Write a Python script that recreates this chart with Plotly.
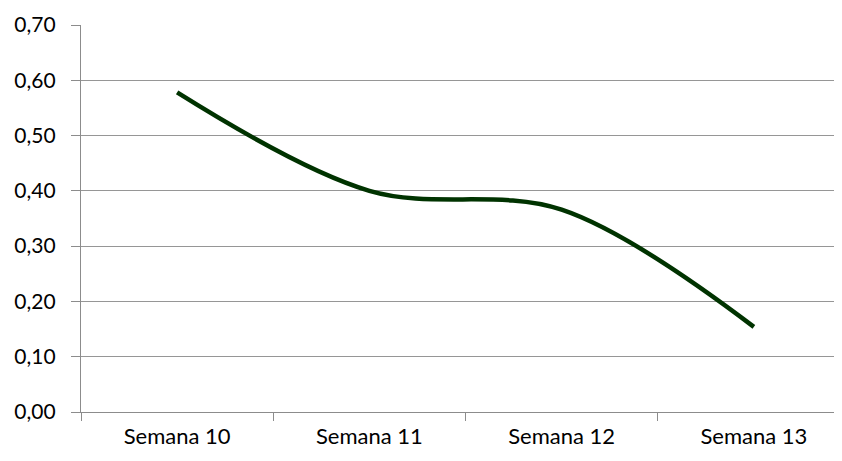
import plotly.graph_objects as go

categories = ["Semana 10", "Semana 11", "Semana 12", "Semana 13"]
values = [0.578, 0.400, 0.366, 0.154]
y_ticks = [0.0, 0.1, 0.2, 0.3, 0.4, 0.5, 0.6, 0.7]

fig = go.Figure()
fig.add_trace(go.Scatter(
    x=categories, y=values, mode="lines",
    line=dict(color="#003300", width=4.5, shape="spline", smoothing=1.0),
    hoverinfo="x+y",
))

font_family = "Lato, 'Open Sans', sans-serif"
fig.update_layout(
    width=842, height=461,
    margin=dict(l=73, r=0, t=17, b=57),
    paper_bgcolor="white", plot_bgcolor="white",
    showlegend=False,
    separators=",.",
    font=dict(family=font_family, size=22, color="#000000"),
    xaxis=dict(
        type="category", range=[-0.5, 3.5],
        showgrid=False, showline=True, linecolor="#8c8c8c", linewidth=1.3,
        ticks="outside", ticklen=8, tickcolor="#8c8c8c", tickwidth=1.3,
        tickson="boundaries", fixedrange=True, automargin=False,
        ticklabelstandoff=4,
        tickfont=dict(family=font_family, size=22, color="#000000"),
    ),
    yaxis=dict(
        range=[0, 0.7], tickvals=y_ticks, tickformat=".2f",
        showgrid=True, gridcolor="#969696", gridwidth=1.3,
        showline=True, linecolor="#8c8c8c", linewidth=1.3,
        ticks="outside", ticklen=9, tickcolor="#8c8c8c", tickwidth=1.3,
        zeroline=False, fixedrange=True, ticklabelstandoff=11, automargin=False,
        tickfont=dict(family=font_family, size=21, color="#000000"),
    ),
)

fig.write_html("out.html")
